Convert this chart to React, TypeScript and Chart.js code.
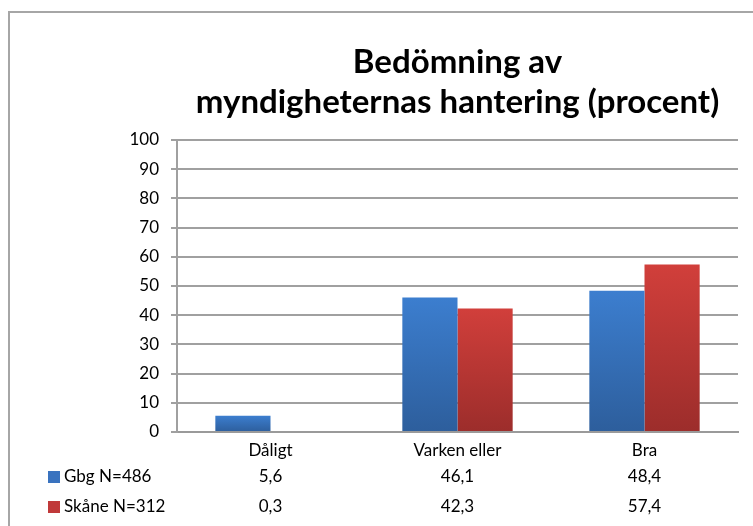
import React, { useEffect, useRef } from "react";
import { Chart, registerables } from "chart.js";

Chart.register(...registerables);

const categories = ["Dåligt", "Varken eller", "Bra"];
const gbgValues = [5.6, 46.1, 48.4];
const skaneValues = [0.3, 42.3, 57.4];
const seriesLabels = ["Gbg N=486", "Skåne N=312"];
const titleLines = ["Bedömning av", "myndigheternas hantering (procent)"];
const yMin = 0;
const yMax = 100;
const yStep = 10;

const FONT = "Lato, 'Open Sans', sans-serif";
const seriesColors = [
  { top: "#3c7ecf", bottom: "#2d5e9c", key: "#3a73bf" },
  { top: "#d13f3b", bottom: "#9c2d2b", key: "#c0393a" },
];

function fmt(v: number) {
  return v.toFixed(1).replace(".", ",");
}

function barGradient(seriesIndex: number) {
  return (ctx: any) => {
    const chart = ctx.chart;
    const c = seriesColors[seriesIndex];
    const yScale = chart.scales && chart.scales.y;
    if (!chart.chartArea || !yScale || ctx.raw == null) return c.top;
    const top = yScale.getPixelForValue(ctx.raw);
    const bottom = yScale.getPixelForValue(0);
    if (!(bottom - top > 0.5)) return c.bottom;
    const g = chart.ctx.createLinearGradient(0, top, 0, bottom);
    g.addColorStop(0, c.top);
    g.addColorStop(1, c.bottom);
    return g;
  };
}

const framePlugin = {
  id: "frame",
  beforeDraw(chart: any) {
    const ctx = chart.ctx;
    ctx.save();
    ctx.fillStyle = "#ffffff";
    ctx.fillRect(0, 0, chart.width, chart.height);
    ctx.strokeStyle = "#a6a6a6";
    ctx.lineWidth = 2;
    ctx.strokeRect(9, 12, chart.width + 10, chart.height + 10);
    ctx.restore();
  },
};

const titleTablePlugin = {
  id: "titleTable",
  afterDraw(chart: any) {
    const ctx = chart.ctx;
    const area = chart.chartArea;
    const xScale = chart.scales.x;
    ctx.save();
    // title
    ctx.fillStyle = "#000000";
    ctx.font = `bold 33px ${FONT}`;
    ctx.textAlign = "center";
    ctx.textBaseline = "alphabetic";
    const cx = (area.left + area.right) / 2;
    titleLines.forEach((line, i) => {
      ctx.fillText(line, cx, 73 + i * 40);
    });
    // data table
    ctx.font = `17px ${FONT}`;
    ctx.textBaseline = "middle";
    const rowY = [area.bottom + 45, area.bottom + 75];
    [gbgValues, skaneValues].forEach((vals, r) => {
      const y = rowY[r];
      ctx.fillStyle = seriesColors[r].key;
      ctx.fillRect(48, y - 6, 12, 12);
      ctx.fillStyle = "#000000";
      ctx.textAlign = "left";
      ctx.fillText(seriesLabels[r], 64, y);
      ctx.textAlign = "center";
      vals.forEach((v, j) => {
        ctx.fillText(fmt(v), xScale.getPixelForValue(j), y);
      });
    });
    ctx.restore();
  },
};

export default function App() {
  const ref = useRef<HTMLCanvasElement | null>(null);
  useEffect(() => {
    if (!ref.current) return;
    const chart = new Chart(ref.current, {
      type: "bar",
      data: {
        labels: categories,
        datasets: [
          {
            label: seriesLabels[0],
            data: gbgValues,
            backgroundColor: barGradient(0),
            barPercentage: 1,
            categoryPercentage: 0.59,
          },
          {
            label: seriesLabels[1],
            data: skaneValues,
            backgroundColor: barGradient(1),
            barPercentage: 1,
            categoryPercentage: 0.59,
          },
        ],
      },
      options: {
        responsive: false,
        animation: false,
        layout: { padding: { left: 0, right: 15, top: 140, bottom: 0 } },
        plugins: {
          legend: { display: false },
          title: { display: false },
          tooltip: { enabled: false },
        },
        scales: {
          x: {
            grid: { display: false },
            border: { display: true, color: "#9a9a9a", width: 2 },
            ticks: {
              color: "#000000",
              font: { family: FONT, size: 17 },
              padding: 0,
              maxRotation: 0,
            },
            afterFit(scale: any) {
              scale.height = 94;
            },
          },
          y: {
            min: yMin,
            max: yMax,
            ticks: {
              stepSize: yStep,
              color: "#000000",
              font: { family: FONT, size: 17 },
              padding: 12,
            },
            grid: { color: "#a0a0a0", lineWidth: 2, tickLength: 6 },
            border: { display: true, color: "#a0a0a0", width: 2 },
            afterFit(scale: any) {
              scale.width = 177;
            },
          },
        },
      },
      plugins: [framePlugin, titleTablePlugin],
    });
    return () => chart.destroy();
  }, []);
  return (
    <div style={{ position: "fixed", left: 0, top: 0, width: 753, height: 526, background: "#fff" }}>
      <canvas ref={ref} width={753} height={526} style={{ display: "block" }} />
    </div>
  );
}
